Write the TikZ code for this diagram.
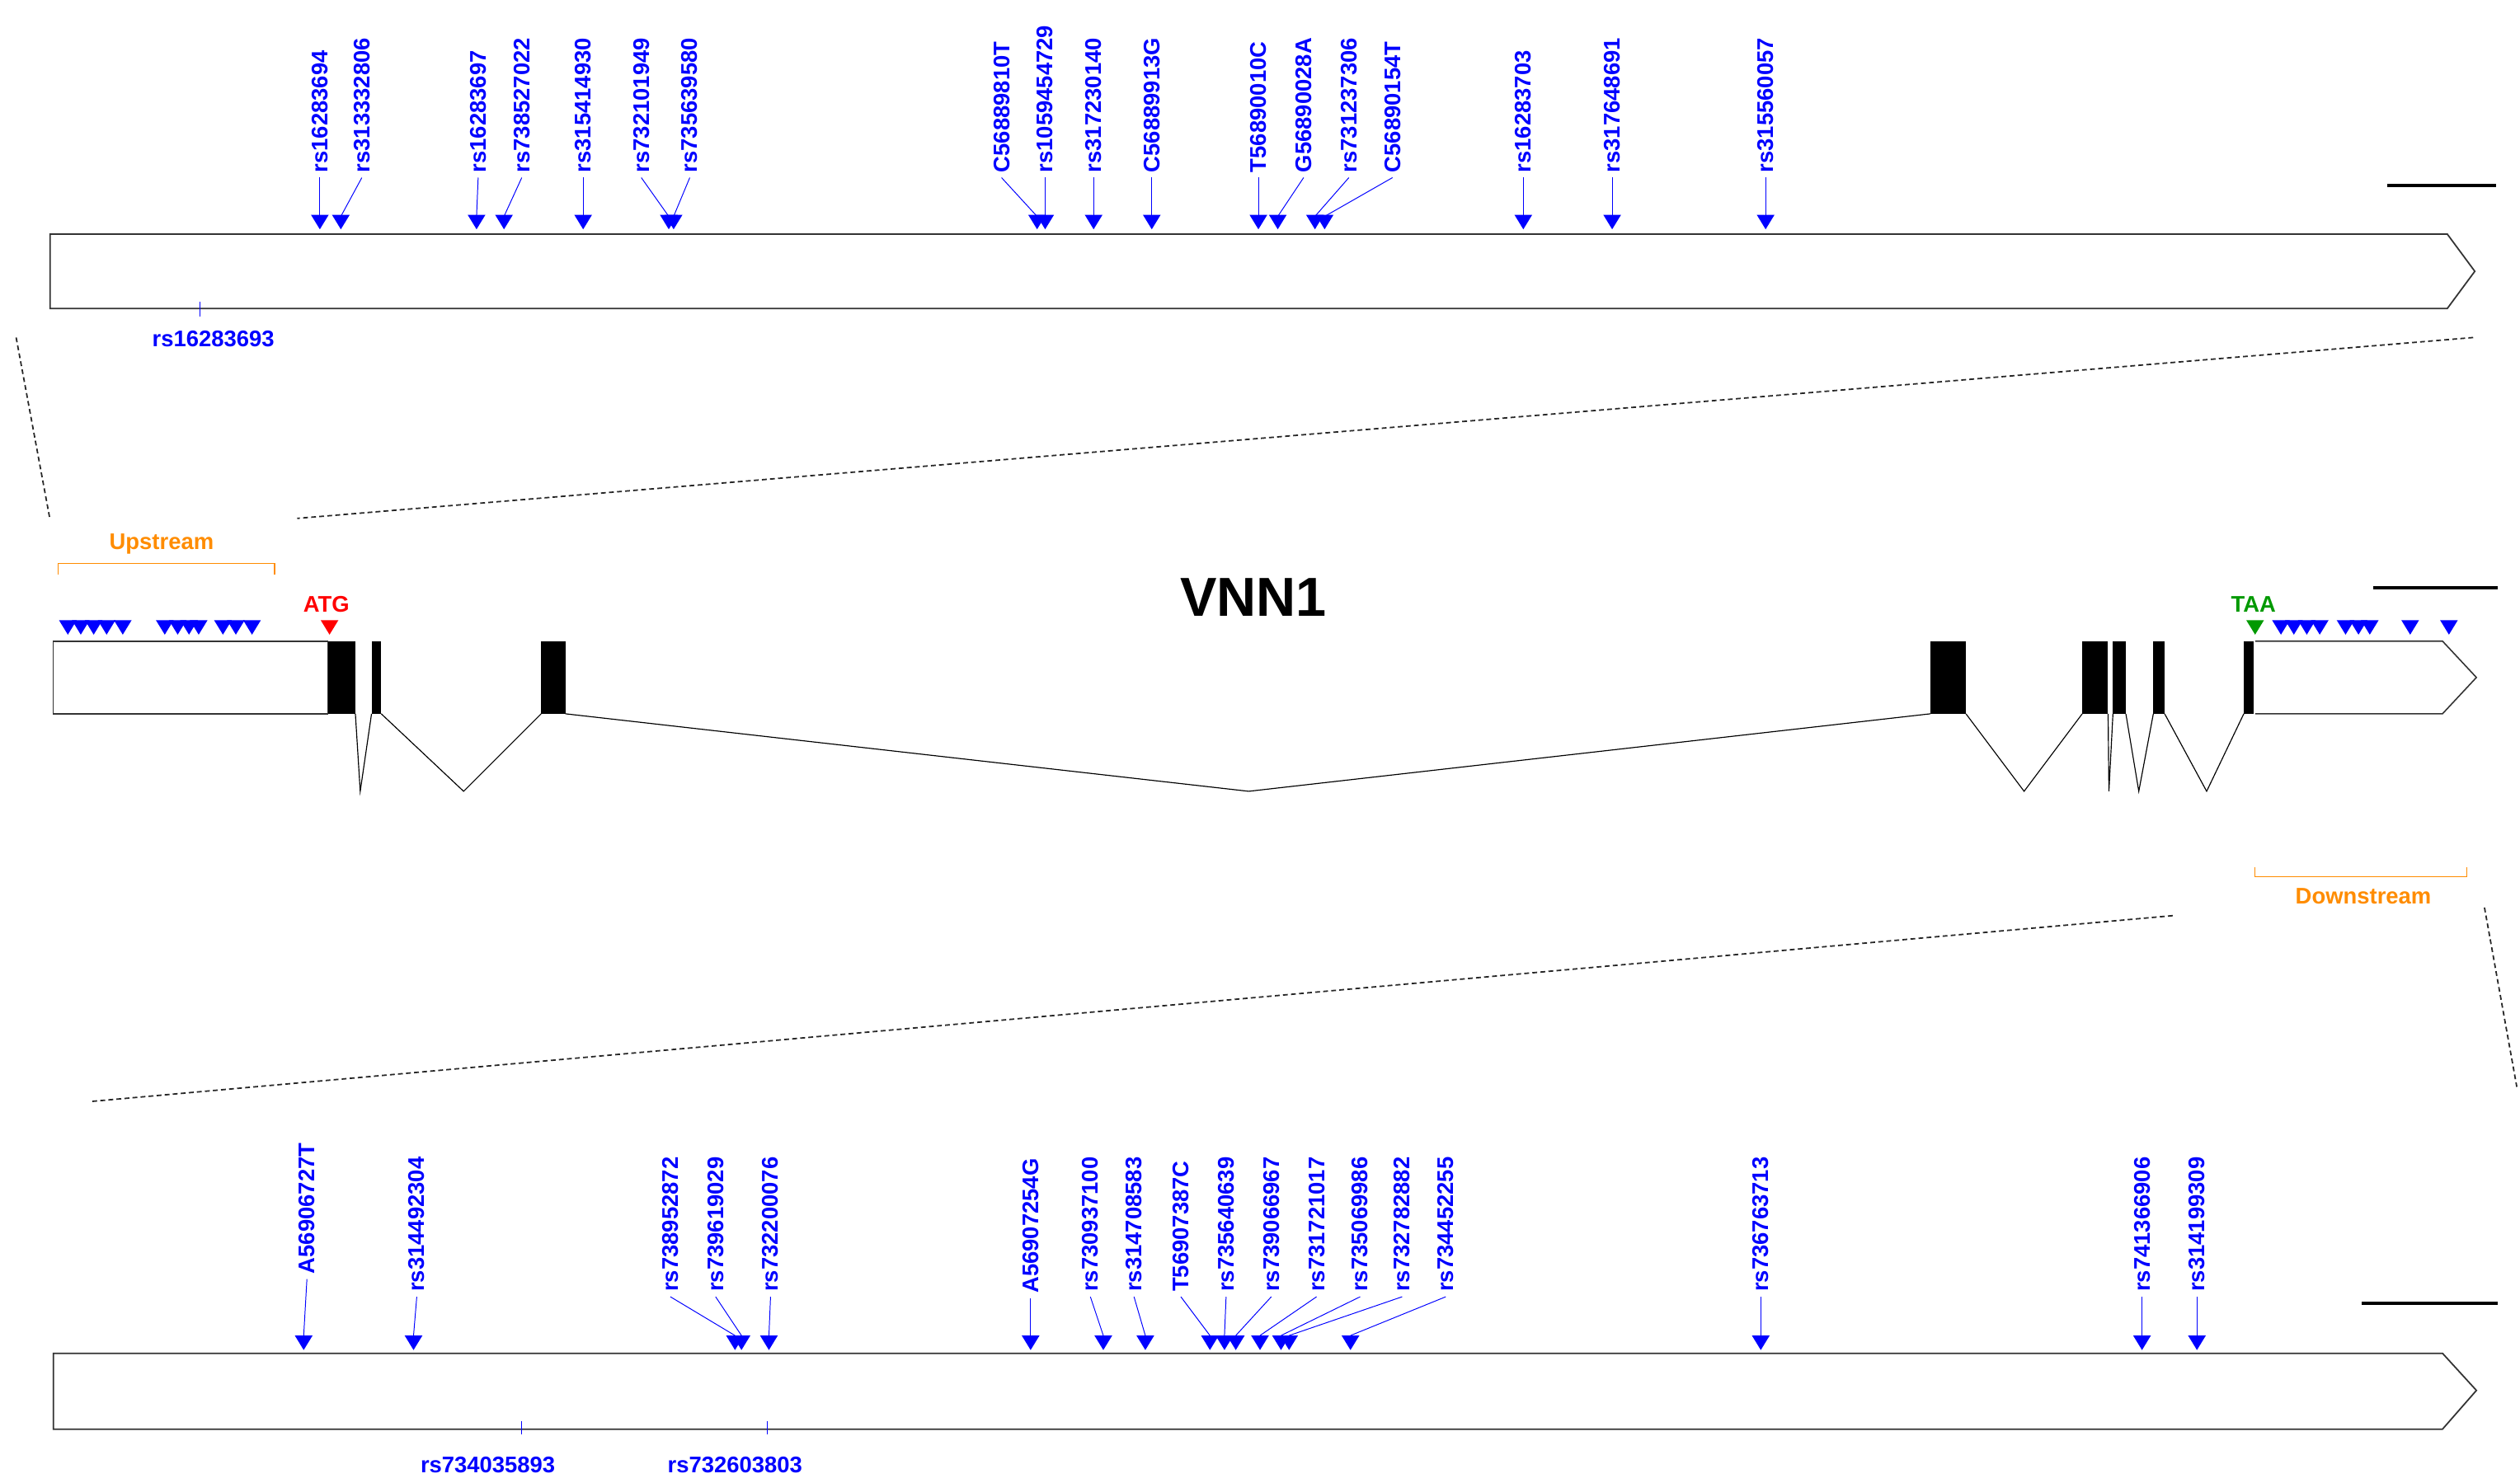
\documentclass[tikz,border=0pt]{standalone}
\usepackage{fontspec}
\setmainfont{Liberation Sans}
\begin{document}
\begin{tikzpicture}[x=1pt,y=-1pt,
  lbl/.style={text=blue,font=\fontsize{14}{14}\selectfont\bfseries,inner sep=0pt},
  vlbl/.style={lbl,rotate=90,anchor=west},
  snpline/.style={blue,line width=0.5pt},
  tri/.style={fill=blue},
  gene/.style={draw=black!80,line width=0.9pt,fill=white},
  zoomline/.style={densely dashed,line width=0.9pt,black!85},
  intron/.style={line width=0.6pt,black},
  bar/.style={line width=2.2pt,black},
  brk/.style={draw=orange!90!yellow,line width=0.7pt}]
\useasboundingbox (0,0) rectangle (1560,918);
\newcommand{\snptri}[2]{\fill[tri] (#1-5.5,#2-9) -- (#1+5.5,#2-9) -- (#1,#2) -- cycle;}
% ---------- top panel ----------
\draw[gene] (31,145) -- (1515,145) -- (1532,168) -- (1515,191) -- (31,191) -- cycle;
\draw[bar] (1478,115) -- (1545,115);
\foreach \lx/\ax/\t [count=\i] in {198/198/rs16283694,224/211/rs313332806,296/295/rs16283697,323/312/rs738527022,361/361/rs315414930,397/414/rs732101949,427/417/rs735639580,620/642/C56889810T,647/647/rs1059454729,677/677/rs317230140,713/713/C56889913G,779/779/T56890010C,807/791/G56890028A,835/814/rs731237306,862/820/C56890154T,943/943/rs16283703,998/998/rs317648691,1093/1093/rs315560057}{
  \node[vlbl] (ta\i) at (\lx,107) {\t};
  \coordinate (tae\i) at (\ax,134);
  \draw[snpline] (ta\i.west) ++(0,3) -- (tae\i);
  \snptri{\ax}{142}
}
\draw[snpline] (124,187) -- (124,196);
\node[lbl] (tb1) at (132,210) {rs16283693};
% zoom lines
\coordinate (z1) at (10,209); \coordinate (z2) at (31,322);
\coordinate (z3) at (1531,209); \coordinate (z4) at (184,321);
\draw[zoomline] (z1) -- (z2); \draw[zoomline] (z3) -- (z4);
% ---------- middle panel ----------
\draw[brk] (36,355.6) -- (36,349) -- (170,349) -- (170,355.6);
\node[font=\fontsize{14}{14}\selectfont\bfseries,text=orange!90!yellow,inner sep=0pt] (up) at (100,337) {Upstream};
\node[font=\fontsize{34}{34}\selectfont\bfseries,inner sep=0pt] (title) at (776,370) {VNN1};
\draw[bar] (1469,364) -- (1546,364);
\node[font=\fontsize{14}{14}\selectfont\bfseries,text=red,inner sep=0pt] (atg) at (202,374) {ATG};
\node[font=\fontsize{14}{14}\selectfont\bfseries,text=green!60!black,inner sep=0pt] (taa) at (1395,374) {TAA};
\foreach \x in {42,50,58,66,76,102,110,117,123,138,146,156,1412,1420,1428,1436,1452,1460,1467,1492,1516}{\snptri{\x}{393}}
\fill[red] (198.5,384) -- (209.5,384) -- (204,393) -- cycle;
\fill[green!60!black] (1390.5,384) -- (1401.5,384) -- (1396,393) -- cycle;
\draw[gene,line width=0.8pt] (33,397) rectangle (203,442);
\draw[gene,line width=0.8pt] (1396,397) -- (1512,397) -- (1533,419.5) -- (1512,442) -- (1396,442);
\foreach \a/\b [count=\i] in {203/220,230/236,335/350,1195/1217,1289/1305,1308/1316,1333/1340,1389/1395}{
  \fill (\a,397) rectangle (\b,442);
}
\foreach \a/\m/\b in {220/223/230,236/287/335,350/773/1195,1217/1253/1289,1305/1305.5/1308,1316/1324/1333,1340/1366/1389}{
  \draw[intron] (\a,442) -- (\m,490) -- (\b,442);
}
\draw[brk] (1396,537) -- (1396,543) -- (1527,543) -- (1527,537);
\node[font=\fontsize{14}{14}\selectfont\bfseries,text=orange!90!yellow,inner sep=0pt] (down) at (1463,555) {Downstream};
\coordinate (z5) at (1345,567); \coordinate (z6) at (57,682);
\coordinate (z7) at (1538,562); \coordinate (z8) at (1558,673);
\draw[zoomline] (z5) -- (z6); \draw[zoomline] (z7) -- (z8);
% ---------- bottom panel ----------
\draw[gene] (33,838) -- (1512,838) -- (1533,861) -- (1512,885) -- (33,885) -- cycle;
\draw[bar] (1462,807) -- (1546,807);
\foreach \lx/\ax/\t/\ly [count=\i] in {190/188/A56906727T/789,258/256/rs314492304/800,415/455/rs738952872/800,443/459/rs739619029/800,477/476/rs732200076/800,638/638/A56907254G/801,675/683/rs730937100/800,702/709/rs314708583/800,731/749/T56907387C/800,759/758/rs735640639/800,787/765/rs739066967/800,815/780/rs731721017/800,842/793/rs735069986/800,868/798/rs732782882/800,895/836/rs734452255/800,1090/1090/rs736763713/800,1326/1326/rs741366906/800,1360/1360/rs314199309/800}{
  \node[vlbl] (ba\i) at (\lx,\ly) {\t};
  \coordinate (bae\i) at (\ax,827);
  \draw[snpline] (ba\i.west) ++(0,3) -- (bae\i);
  \snptri{\ax}{836}
}
\draw[snpline] (323,880) -- (323,888);
\draw[snpline] (475,880) -- (475,888);
\node[lbl] (bb1) at (302,907) {rs734035893};
\node[lbl] (bb2) at (455,907) {rs732603803};
\end{tikzpicture}
\end{document}
